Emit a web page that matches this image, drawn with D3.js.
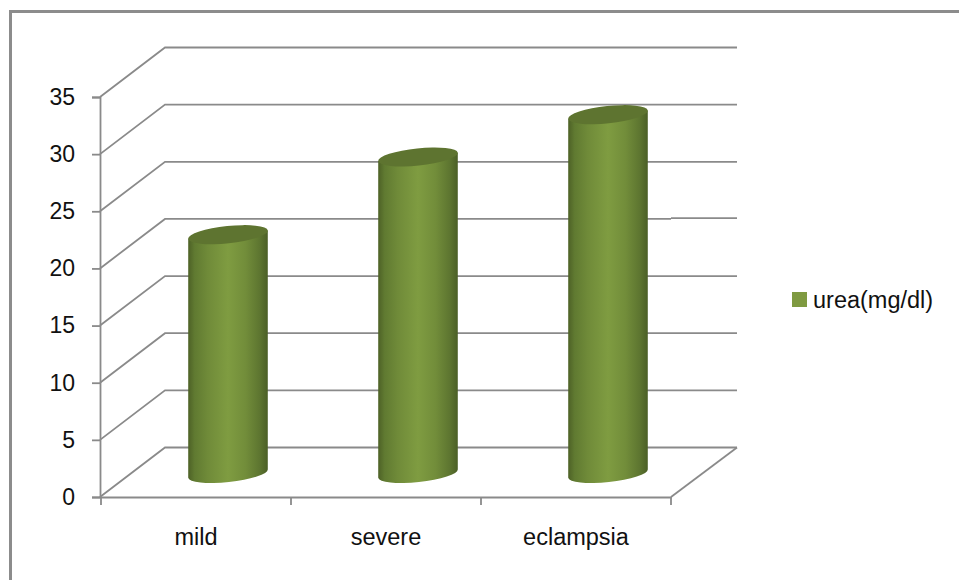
<!DOCTYPE html>
<html>
<head>
<meta charset="utf-8">
<script src="https://cdn.jsdelivr.net/npm/d3@7"></script>
<style>
  html, body { margin: 0; padding: 0; background: #fff; }
  svg { display: block; }
  text { font-family: "Liberation Sans", Arial, sans-serif; fill: #111; }
</style>
</head>
<body>
<svg id="chart" width="959" height="580"></svg>
<script>
// Urea level by severity group, drawn as 3-D style cylinders.
const categories = ["mild", "severe", "eclampsia"];
const ureaValues = [20.9, 27.7, 31.4];
const yTicks = [0, 5, 10, 15, 20, 25, 30, 35];
const seriesName = "urea(mg/dl)";

const svg = d3.select("#chart");
const lineColor = "#8a8a8a";
const depthX = 65, depthY = -49.5;     // offset of the back wall from the front plane
const baseLift = 23.5;                 // cylinder base sits this far above the front edge
const rx = 40, ry = 8.6, tilt = -6;

const x = d3.scaleBand().domain(categories).range([101, 671]);
const y = d3.scaleLinear().domain([0, 35]).range([497, 97]);

// Outer frame: top and left edges only
svg.append("path")
  .attr("d", "M959,11.5 H10.5 V580")
  .attr("fill", "none").attr("stroke", "#8c8c8c").attr("stroke-width", 3);

const walls = svg.append("g").attr("fill", "none").attr("stroke", lineColor).attr("stroke-width", 1.8);

// Side wall diagonals and back wall gridlines
walls.selectAll("path.grid").data(yTicks).join("path")
  .attr("class", "grid")
  .attr("d", d => {
    const fy = y(d), by = fy + depthY;
    const jog = d === 20 ? -0.8 : 0;   // the segment beyond the plot sits slightly higher
    return `M${x.range()[0] - 1},${fy} L${x.range()[0] - 1 + depthX},${by} H${x.range()[1]} M${x.range()[1]},${by + jog} H${x.range()[1] + depthX + 1}`;
  });

// Floor: right-hand diagonal
walls.append("path")
  .attr("d", `M${x.range()[1]},${y(0)} L${x.range()[1] + depthX + 1},${y(0) + depthY}`);

// Y axis
const yAxis = svg.append("g")
  .attr("transform", `translate(${x.range()[0] - 1},0)`)
  .call(d3.axisLeft(y).tickValues(yTicks).tickSize(8).tickPadding(17));
yAxis.selectAll("line").attr("stroke", lineColor).attr("stroke-width", 1.8);
yAxis.select(".domain").attr("stroke", lineColor).attr("stroke-width", 1.8);
yAxis.selectAll("text").attr("font-size", 23).attr("font-family", "Liberation Sans").attr("fill", "#111");

// X axis line, boundary ticks and centred labels
const xAxis = svg.append("g").attr("transform", `translate(0,${y(0)})`)
  .call(d3.axisBottom(x).tickSize(0).tickPadding(31));
xAxis.select(".domain").attr("stroke", lineColor).attr("stroke-width", 1.8);
xAxis.selectAll("text").attr("font-size", 23.5).attr("font-family", "Liberation Sans").attr("fill", "#111");
xAxis.selectAll("line.edge")
  .data([...categories.map(c => x(c)), x.range()[1]]).join("line")
  .attr("class", "edge")
  .attr("x1", d => d).attr("x2", d => d).attr("y1", 0).attr("y2", 8)
  .attr("stroke", lineColor).attr("stroke-width", 1.8);

// Cylinder shading
const defs = svg.append("defs");
const grad = defs.append("linearGradient").attr("id", "cyl").attr("x1", 0).attr("x2", 1).attr("y1", 0).attr("y2", 0);
[[0, "#4d6126"], [0.08, "#607a31"], [0.25, "#708b39"], [0.5, "#7f9c41"], [0.72, "#728d3a"], [0.9, "#5d7530"], [1, "#4b5f26"]]
  .forEach(([o, c]) => grad.append("stop").attr("offset", o).attr("stop-color", c));

const cx = d => x(d) + x.bandwidth() / 2 + depthX / 2 - 0.5;
const a = tilt * Math.PI / 180;
const ex = rx * Math.cos(a), ey = rx * Math.sin(a);

const bars = svg.append("g").selectAll("g")
  .data(categories.map((c, i) => ({ c, v: ureaValues[i] }))).join("g");

bars.append("path")
  .attr("fill", "url(#cyl)")
  .attr("d", d => {
    const c = cx(d.c), top = y(d.v) - baseLift, base = y(0) - baseLift;
    return `M${c - ex},${top - ey} L${c - ex},${base - ey} A${rx},${ry} ${tilt} 0 0 ${c + ex},${base + ey} L${c + ex},${top + ey} Z`;
  });

bars.append("ellipse")
  .attr("rx", rx).attr("ry", ry).attr("fill", "#5e7430")
  .attr("transform", d => `translate(${cx(d.c)},${y(d.v) - baseLift}) rotate(${tilt})`);

// Legend
const legend = svg.append("g").attr("transform", "translate(792,292)");
legend.append("rect").attr("width", 15).attr("height", 15).attr("fill", "#7f9a41");
legend.append("text").attr("x", 21).attr("y", 15.5).attr("font-size", 23.5).text(seriesName);
</script>
</body>
</html>
